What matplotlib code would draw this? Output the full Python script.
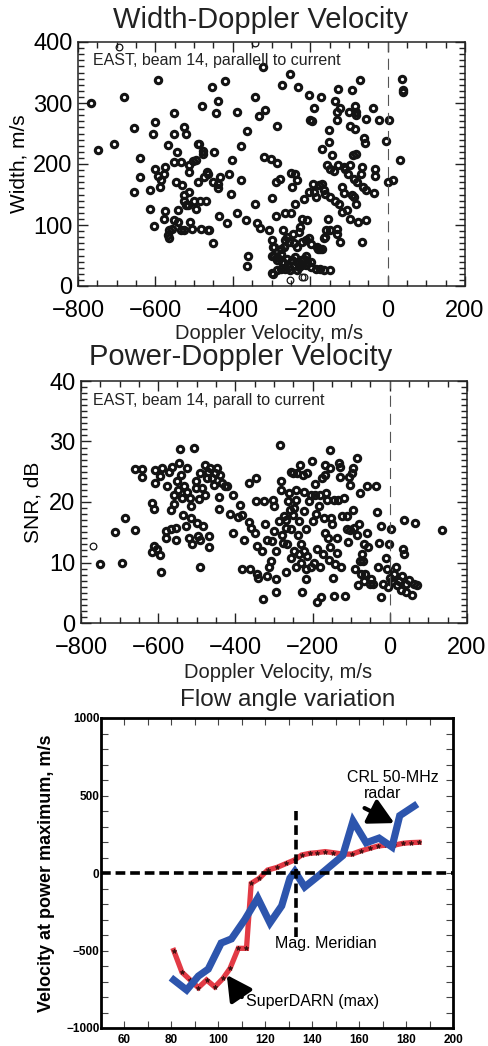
import matplotlib
matplotlib.use("Agg")
import matplotlib.pyplot as plt
from matplotlib.ticker import MultipleLocator

plt.rcParams['font.family'] = ['Liberation Sans', 'DejaVu Sans']
plt.rcParams['lines.scale_dashes'] = False

# ---------------- Panel 1 data: Width vs Doppler velocity ----------------
w_vel = [-766, -748, -707, -681, -656, -641, -639, -656, -614, -614,
         -603, -606, -601, -592, -601, -594, -587, -585, -574, -579,
         -579, -574, -568, -564, -567, -564, -558, -553, -553, -553,
         -553, -547, -544, -542, -542, -534, -534, -530, -527, -527,
         -525, -525, -521, -521, -517, -512, -512, -512, -510, -506,
         -504, -500, -495, -494, -491, -489, -487, -484, -482, -480,
         -478, -478, -474, -470, -465, -467, -463, -461, -455, -452,
         -452, -448, -444, -439, -439, -437, -435, -434, -421, -416,
         -409, -403, -405, -388, -388, -379, -378, -367, -364, -362,
         -364, -343, -343, -338, -330, -332, -318, -321, -319, -306,
         -300, -300, -302, -300, -295, -294, -289, -289, -286, -286,
         -285, -278, -272, -270, -275, -266, -264, -259, -249, -251,
         -249, -246, -244, -242, -238, -238, -235, -232, -229, -227,
         -221, -215, -210, -208, -203, -203, -201, -199, -195, -192,
         -191, -189, -186, -182, -178, -175, -173, -169, -169, -169,
         -165, -165, -161, -158, -156, -155, -152, -152, -149, -148,
         -148, -148, -143, -139, -136, -135, -132, -132, -129, -130,
         -130, -129, -126, -122, -122, -118, -118, -113, -112, -109,
         -105, -103, -100, -98, -96, -96, -92, -92, -89, -88,
         -86, -83, -83, -81, -81, -81, -81, -79, -77, -72,
         -70, -66, -66, -64, -60, -58, -55, -55, -55, -38,
         -34, -32, -32, -23, -3, 0, 3, 14, 33, 37,
         39, 41,
         -296, -276, -285, -272, -294, -234, -255, -268, -221, -268,
         -259, -255, -246, -242, -238, -234, -229, -225, -221, -216,
         -212, -208, -251, -234, -264, -276, -285, -298, -199, -186,
         -175, -165, -212, -199, -203, -180, -161]
w_width = [300, 223, 232, 310, 259, 210, 178, 154, 127, 158,
           99, 249, 269, 338, 192, 181, 163, 173, 195, 183,
           110, 123, 231, 91, 83, 79, 94, 283, 250, 203,
           108, 170, 219, 124, 105, 203, 91, 165, 260, 91,
           149, 140, 250, 132, 132, 198, 187, 154, 105, 94,
           205, 140, 127, 206, 233, 170, 233, 140, 94, 295,
           217, 222, 179, 140, 91, 187, 184, 91, 327, 170,
           70, 220, 284, 304, 160, 168, 114, 179, 336, 103,
           184, 207, 151, 285, 120, 229, 173, 108, 254, 49,
           32, 135, 310, 103, 95, 278, 288, 359, 211, 91,
           75, 145, 209, 50, 19, 64, 114, 170, 262, 202,
           48, 176, 329, 92, 61, 76, 119, 80, 119, 348,
           185, 162, 85, 70, 184, 135, 173, 327, 89, 97,
           110, 143, 75, 108, 154, 313, 272, 69, 270, 167,
           154, 291, 146, 64, 165, 61, 310, 168, 61, 225,
           158, 79, 151, 91, 198, 110, 236, 255, 146, 192,
           26, 91, 214, 188, 140, 304, 285, 272, 323, 94,
           86, 198, 134, 291, 72, 162, 121, 152, 195, 191,
           125, 184, 285, 110, 263, 198, 321, 149, 214, 176,
           146, 258, 295, 285, 280, 216, 134, 170, 105, 337,
           184, 72, 195, 163, 242, 234, 273, 157, 108, 291,
           152, 192, 181, 272, 238, 170, 272, 174, 207, 340,
           321, 318,
           64, 53, 42, 39, 50, 64, 72, 64, 72, 37,
           45, 31, 42, 34, 48, 39, 31, 42, 34, 45,
           34, 39, 26, 26, 28, 28, 26, 21, 31, 28,
           28, 27, 50, 39, 78, 61, 80]
w_vel_thin = [-693, -343, -251, -221, -215]
w_width_thin = [392, 398, 10, 15, 15]

# ---------------- Panel 2 data: SNR vs Doppler velocity ----------------
p_vel = [-752, -711, -693, -686, -659, -659, -642, -642, -617, -610,
         -616, -610, -603, -596, -594, -607, -607, -596, -590, -581,
         -581, -577, -573, -568, -568, -564, -560, -560, -555, -553,
         -551, -549, -547, -544, -542, -538, -535, -534, -529, -525,
         -525, -521, -518, -516, -515, -512, -508, -503, -503, -499,
         -497, -495, -492, -491, -491, -486, -484, -480, -478, -473,
         -471, -469, -469, -465, -460, -456, -452, -447, -443, -443,
         -439, -434, -428, -421, -415, -406, -406, -393, -389, -383,
         -378, -383, -365, -365, -363, -360, -349, -347, -346, -344,
         -342, -344, -327, -331, -329, -324, -318, -318, -313, -309,
         -305, -302, -301, -299, -296, -294, -294, -288, -285, -283,
         -281, -279, -276, -275, -270, -270, -268, -266, -264, -262,
         -259, -257, -257, -256, -250, -250, -249, -249, -244, -244,
         -242, -240, -238, -236, -236, -233, -231, -230, -227, -225,
         -223, -221, -221, -218, -218, -216, -214, -214, -210, -205,
         -204, -201, -199, -197, -195, -193, -190, -188, -188, -184,
         -181, -180, -178, -175, -173, -171, -169, -167, -167, -164,
         -162, -161, -158, -155, -154, -154, -152, -149, -147, -145,
         -145, -141, -138, -136, -135, -132, -130, -128, -126, -123,
         -119, -115, -111, -111, -109, -106, -104, -102, -98, -96,
         -95, -93, -90, -86, -85, -83, -80, -78, -76, -74,
         -72, -69, -67, -66, -63, -60, -59, -57, -52, -48,
         -43, -35, -33, -31, -28, -24, -22, -17, -11, -7,
         -5, -3, 0, 3, 6, 10, 15, 19, 23, 28,
         32, 35, 36, 38, 41, 43, 49, 58, 62, 66,
         71, 136]
p_snr = [9.8, 15.1, 9.9, 17.3, 15.4, 25.5, 25.5, 24.2, 19.8, 18.9,
         11.7, 12.8, 12.3, 11.2, 8.5, 25.3, 23.1, 24.3, 25.6, 15.2,
         14.1, 22.6, 25.0, 18.7, 15.5, 25.8, 21.2, 19.7, 13.8, 15.7,
         23.4, 22.0, 26.4, 28.7, 24.5, 20.7, 17.9, 22.6, 16.0, 25.6,
         21.7, 14.1, 20.7, 17.4, 19.3, 13.1, 29.0, 22.3, 23.4, 16.6,
         14.4, 20.5, 13.8, 9.3, 24.8, 22.3, 16.0, 21.2, 26.1, 23.9,
         25.0, 14.4, 12.6, 25.6, 24.0, 22.8, 24.8, 25.6, 20.9, 18.9,
         24.4, 23.1, 22.7, 22.6, 18.0, 14.9, 21.1, 17.5, 19.5, 17.8,
         13.8, 8.9, 16.7, 23.1, 8.9, 15.7, 14.8, 24.0, 20.1, 8.1,
         7.5, 12.7, 20.2, 11.9, 4.0, 16.4, 7.7, 13.8, 9.2, 10.3,
         13.6, 20.4, 15.2, 19.3, 11.9, 7.3, 5.2, 16.8, 29.5, 22.0,
         23.5, 14.6, 13.3, 17.7, 17.1, 8.4, 15.7, 13.0, 20.1, 21.5,
         18.7, 25.0, 15.5, 10.7, 17.9, 24.8, 19.0, 11.9, 9.2, 22.0,
         20.4, 24.8, 14.6, 16.8, 11.4, 26.1, 13.0, 10.0, 5.2, 24.5,
         18.5, 21.7, 11.9, 15.5, 8.9, 7.3, 11.1, 24.8, 20.1, 21.2,
         9.2, 26.8, 16.8, 10.0, 21.2, 23.0, 18.0, 12.3, 3.4, 19.3,
         9.3, 21.2, 4.3, 23.9, 11.4, 17.4, 24.5, 14.9, 26.1, 21.5,
         20.4, 14.1, 10.4, 25.6, 28.6, 12.5, 17.4, 16.3, 7.5, 4.5,
         20.4, 9.8, 11.5, 14.1, 20.4, 26.4, 24.2, 25.8, 9.2, 17.7,
         20.7, 4.5, 17.7, 15.5, 13.4, 24.2, 22.8, 15.4, 24.8, 18.7,
         25.6, 15.7, 8.9, 27.2, 14.6, 6.2, 16.3, 10.3, 21.5, 8.1,
         11.4, 10.3, 13.1, 7.0, 8.1, 22.6, 14.9, 12.5, 6.4, 7.3,
         6.4, 22.6, 18.3, 9.3, 13.3, 4.3, 16.0, 6.4, 10.8, 8.9,
         5.9, 13.0, 7.5, 15.5, 7.0, 8.1, 9.3, 6.2, 7.0, 5.4,
         7.7, 12.2, 17.1, 11.4, 5.1, 6.4, 7.1, 4.7, 6.4, 16.6,
         6.2, 15.4]
p_vel_thin = [-769]
p_snr_thin = [12.8]

# ---------------- Panel 3 data: flow angle variation ----------------
red_angle = [81, 84.5, 88, 91.5, 95, 98.5, 102, 105, 108.5, 112, 114,
             117.5, 121, 125, 129, 132.5, 135.5, 139, 142, 145.5, 149,
             153, 157, 161, 164.5, 168, 171.5, 175, 178.5, 182, 185.5]
red_vel = [-500, -640, -690, -740, -690, -735, -680, -615, -486, -486, -67,
           -34, 19, 36, 62, 84, 116, 127, 131, 138, 131,
           122, 122, 144, 159, 174, 180, 180, 191, 196, 198]
blue_angle = [81, 86.5, 91.5, 95.7, 101.2, 105.6, 111.3, 116.8, 122, 127,
              130.5, 132.6, 136.8, 145, 153, 157.4, 163, 168.5, 174, 177.3, 183.5]
blue_vel = [-690, -755, -665, -620, -452, -425, -300, -162, -322, -212,
            -34, 10, -90, 10, 112, 335, 195, 225, 168, 370, 432]
meridian_angle = 133

W, H = 488, 1046
fig = plt.figure(figsize=(W / 100, H / 100), dpi=100)


def fx(px):
    return px / W


def fy(py):
    return 1 - py / H


def style_scatter_axes(ax, xmajor, xminor, ymajor, yminor):
    ax.xaxis.set_major_locator(MultipleLocator(xmajor))
    ax.xaxis.set_minor_locator(MultipleLocator(xminor))
    ax.yaxis.set_major_locator(MultipleLocator(ymajor))
    ax.yaxis.set_minor_locator(MultipleLocator(yminor))
    ax.tick_params(which='both', direction='in', top=True, right=True, width=1.0, color='#222222')
    ax.tick_params(which='major', length=7)
    ax.tick_params(which='minor', length=4)
    ax.tick_params(axis='y', which='major', labelsize=17, pad=4)
    ax.tick_params(axis='x', which='major', labelsize=17, pad=10)
    for s in ax.spines.values():
        s.set_linewidth(1.1)
        s.set_color('#222222')


mk = dict(linestyle='none', marker='o', ms=4.6, mew=2.2, mfc='none', mec='#141414')
mk_thin = dict(linestyle='none', marker='o', ms=4.8, mew=0.9, mfc='none', mec='#141414')

# ---- Panel 1 ----
ax1 = fig.add_axes([fx(78), fy(286), fx(465) - fx(78), fy(42) - fy(286)])
ax1.plot(w_vel, w_width, **mk)
ax1.plot(w_vel_thin, w_width_thin, **mk_thin)
ax1.set_xlim(-800, 200)
ax1.set_ylim(0, 400)
ax1.axvline(0, color='#555555', lw=0.8, dashes=(8, 5))
style_scatter_axes(ax1, 200, 50, 100, 10)
ax1.set_ylabel('Width, m/s', fontsize=15, labelpad=3)
ax1.text(0.039, 0.926, 'EAST, beam 14, parallell to current', transform=ax1.transAxes,
         fontsize=11.5, ha='left', va='center', color='#222222')
fig.text(fx(261), fy(20), 'Width-Doppler Velocity', fontsize=21, ha='center', va='center', color='#222222')
fig.text(fx(269), fy(333), 'Doppler Velocity, m/s', fontsize=14.5, ha='center', va='center', color='#222222')

# ---- Panel 2 ----
ax2 = fig.add_axes([fx(81), fy(623), fx(467) - fx(81), fy(381) - fy(623)])
ax2.plot(p_vel, p_snr, **mk)
ax2.plot(p_vel_thin, p_snr_thin, **mk_thin)
ax2.set_xlim(-800, 200)
ax2.set_ylim(0, 40)
ax2.axvline(0, color='#555555', lw=0.8, dashes=(8, 5))
style_scatter_axes(ax2, 200, 50, 10, 1)
ax2.set_ylabel('SNR, dB', fontsize=15, labelpad=5)
ax2.text(0.031, 0.92, 'EAST, beam 14, parall to current', transform=ax2.transAxes,
         fontsize=11.5, ha='left', va='center', color='#222222')
fig.text(fx(241), fy(357), 'Power-Doppler Velocity', fontsize=21, ha='center', va='center', color='#222222')
fig.text(fx(278), fy(672), 'Doppler Velocity, m/s', fontsize=14.5, ha='center', va='center', color='#222222')

# ---- Panel 3 ----
ax3 = fig.add_axes([fx(101), fy(1028), fx(453) - fx(101), fy(718) - fy(1028)])
ax3.set_xlim(50, 200)
ax3.set_ylim(-1000, 1000)
ax3.plot(red_angle, red_vel, color='#e23a45', lw=3.8, solid_joinstyle='miter', zorder=3)
ax3.plot(red_angle, red_vel, linestyle='none', marker='*', ms=3.5, mew=0.5, color='#3a1010', zorder=3.5)
ax3.plot(blue_angle, blue_vel, color='#2d55ad', lw=5.2, solid_joinstyle='miter', zorder=4)
ax3.axhline(0, color='black', lw=2.6, dashes=(7, 3.5), zorder=5)
ax3.plot([meridian_angle, meridian_angle], [-410, 400], color='black', lw=2.6, dashes=(7, 3.5), zorder=5)
ax3.xaxis.set_major_locator(MultipleLocator(20))
ax3.xaxis.set_minor_locator(MultipleLocator(10))
ax3.yaxis.set_major_locator(MultipleLocator(500))
ax3.yaxis.set_minor_locator(MultipleLocator(100))
ax3.tick_params(which='both', direction='in', top=True, right=True, width=0.8, length=5, color='#444444')
ax3.tick_params(axis='y', labelsize=8.5, pad=1)
ax3.tick_params(axis='x', labelsize=8.5, pad=4)
for lab in ax3.get_xticklabels() + ax3.get_yticklabels():
    lab.set_fontweight('bold')
for s in ax3.spines.values():
    s.set_linewidth(2.0)
ax3.set_ylabel('Velocity at power maximum, m/s', fontsize=13, fontweight='bold', labelpad=8)
ax3.text(146, -452, 'Mag. Meridian', fontsize=11.5, ha='center', va='center')
ax3.text(174.3, 619, 'CRL 50-MHz', fontsize=11.5, ha='center', va='center')
ax3.text(170, 510, 'radar', fontsize=11.5, ha='center', va='center')
ax3.text(111.7, -832, 'SuperDARN (max)', fontsize=11.5, ha='left', va='center')
arrow = dict(arrowstyle='-|>,head_length=0.75,head_width=0.4', lw=3.0, color='black',
             mutation_scale=20, shrinkA=0, shrinkB=0)
ax3.annotate('', xy=(175, 322), xytext=(162.3, 419), arrowprops=arrow, zorder=6)
ax3.annotate('', xy=(103.6, -658), xytext=(110, -800), arrowprops=arrow, zorder=6)
fig.text(fx(288), fy(700), 'Flow angle variation', fontsize=17.5, ha='center', va='center', color='#222222')

fig.savefig('out.png', dpi=100)
